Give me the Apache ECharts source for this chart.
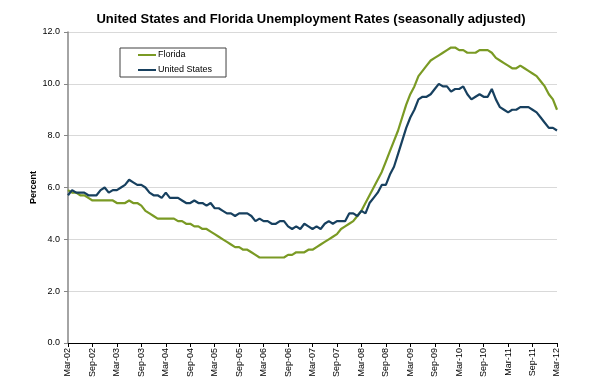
<!DOCTYPE html>
<html>
<head>
<meta charset="utf-8">
<script src="https://cdn.jsdelivr.net/npm/echarts@6/dist/echarts.min.js"></script>
<style>html,body{margin:0;padding:0;background:#fff;}#c{width:593px;height:383px;}</style>
</head>
<body>
<div id="c"></div>
<script>
// Month names and range (Mar-02 .. Mar-12)
var monthNames = ['Jan','Feb','Mar','Apr','May','Jun','Jul','Aug','Sep','Oct','Nov','Dec'];
var startYear = 2002, startMonth = 2, monthCount = 121;

// Florida unemployment rate (%), monthly Mar-02 .. Mar-12
var florida = [
  5.9, 5.8, 5.8, 5.7, 5.7, 5.6, 5.5, 5.5, 5.5, 5.5,
  5.5, 5.5, 5.4, 5.4, 5.4, 5.5, 5.4, 5.4, 5.3, 5.1, 5.0, 4.9,
  4.8, 4.8, 4.8, 4.8, 4.8, 4.7, 4.7, 4.6, 4.6, 4.5, 4.5, 4.4,
  4.4, 4.3, 4.2, 4.1, 4.0, 3.9, 3.8, 3.7, 3.7, 3.6, 3.6, 3.5,
  3.4, 3.3, 3.3, 3.3, 3.3, 3.3, 3.3, 3.3, 3.4, 3.4, 3.5, 3.5,
  3.5, 3.6, 3.6, 3.7, 3.8, 3.9, 4.0, 4.1, 4.2, 4.4, 4.5, 4.6,
  4.7, 4.9, 5.1, 5.4, 5.7, 6.0, 6.3, 6.6, 7.0, 7.4, 7.8, 8.2,
  8.7, 9.2, 9.6, 9.9, 10.3, 10.5, 10.7, 10.9, 11.0, 11.1, 11.2, 11.3,
  11.4, 11.4, 11.3, 11.3, 11.2, 11.2, 11.2, 11.3, 11.3, 11.3, 11.2, 11.0,
  10.9, 10.8, 10.7, 10.6, 10.6, 10.7, 10.6, 10.5, 10.4, 10.3, 10.1, 9.9,
  9.6, 9.4, 9.0
];

// United States unemployment rate (%), monthly Mar-02 .. Mar-12
var unitedStates = [
  5.7, 5.9, 5.8, 5.8, 5.8, 5.7, 5.7, 5.7, 5.9, 6.0,
  5.8, 5.9, 5.9, 6.0, 6.1, 6.3, 6.2, 6.1, 6.1, 6.0, 5.8, 5.7,
  5.7, 5.6, 5.8, 5.6, 5.6, 5.6, 5.5, 5.4, 5.4, 5.5, 5.4, 5.4,
  5.3, 5.4, 5.2, 5.2, 5.1, 5.0, 5.0, 4.9, 5.0, 5.0, 5.0, 4.9,
  4.7, 4.8, 4.7, 4.7, 4.6, 4.6, 4.7, 4.7, 4.5, 4.4, 4.5, 4.4,
  4.6, 4.5, 4.4, 4.5, 4.4, 4.6, 4.7, 4.6, 4.7, 4.7, 4.7, 5.0,
  5.0, 4.9, 5.1, 5.0, 5.4, 5.6, 5.8, 6.1, 6.1, 6.5, 6.8, 7.3,
  7.8, 8.3, 8.7, 9.0, 9.4, 9.5, 9.5, 9.6, 9.8, 10.0, 9.9, 9.9,
  9.7, 9.8, 9.8, 9.9, 9.6, 9.4, 9.5, 9.6, 9.5, 9.5, 9.8, 9.4,
  9.1, 9.0, 8.9, 9.0, 9.0, 9.1, 9.1, 9.1, 9.0, 8.9, 8.7, 8.5,
  8.3, 8.3, 8.2
];

// Y-axis ticks
var yMin = 0, yMax = 12, yStep = 2;

var categories = [];
for (var k = 0; k < monthCount; k++) {
  var m = (startMonth + k) % 12;
  var y = startYear + Math.floor((startMonth + k) / 12);
  categories.push(monthNames[m] + '-' + String(y % 100).padStart(2, '0'));
}

var FONT = 'Liberation Sans';
var chart = echarts.init(document.getElementById('c'), null, {renderer: 'canvas'});
chart.setOption({
  animation: false,
  backgroundColor: '#ffffff',
  title: {
    text: 'United States and Florida Unemployment Rates (seasonally adjusted)',
    left: 306, textAlign: 'center', top: 8,
    textStyle: {fontFamily: FONT, fontSize: 13, fontWeight: 'bold', color: '#000'}
  },
  legend: {
    orient: 'vertical', left: 120, top: 48,
    data: ['Florida', 'United States'],
    icon: 'rect', itemWidth: 18, itemHeight: 2, itemGap: 5,
    borderColor: '#404040', borderWidth: 1, borderRadius: 0,
    padding: [2, 14, 2, 18],
    textStyle: {fontFamily: FONT, fontSize: 9, color: '#000', lineHeight: 10, padding: [0,0,0,-3]}
  },
  grid: {left: 68, right: 36, top: 32, bottom: 40, containLabel: false},
  xAxis: {
    type: 'category', data: categories, boundaryGap: false,
    axisLine: {lineStyle: {color: '#000', width: 1}},
    axisTick: {show: true, interval: 5, length: 4, lineStyle: {color: '#000'}},
    axisLabel: {interval: 5, rotate: 90, fontFamily: FONT, fontSize: 9, color: '#000', margin: 5},
    splitLine: {show: false}
  },
  yAxis: {
    type: 'value', min: yMin, max: yMax, interval: yStep,
    name: 'Percent', nameLocation: 'middle', nameGap: 30, nameMoveOverlap: false,
    nameTextStyle: {fontFamily: FONT, fontSize: 9, fontWeight: 'bold', color: '#000'},
    axisLine: {show: true, lineStyle: {color: '#868686', width: 1.5}},
    axisTick: {show: true, length: 4, lineStyle: {color: '#868686'}},
    axisLabel: {fontFamily: FONT, fontSize: 9, color: '#000', margin: 8,
      formatter: function (v) { return v.toFixed(1); }},
    splitLine: {show: true, lineStyle: {color: '#d9d9d9', width: 1}}
  },
  series: [
    {name: 'Florida', type: 'line', data: florida, showSymbol: false, symbol: 'none',
     lineStyle: {color: '#7a9a24', width: 2.2}, itemStyle: {color: '#7a9a24'}, z: 2},
    {name: 'United States', type: 'line', data: unitedStates, showSymbol: false, symbol: 'none',
     lineStyle: {color: '#17405f', width: 2.2}, itemStyle: {color: '#17405f'}, z: 3}
  ]
});
</script>
</body>
</html>
